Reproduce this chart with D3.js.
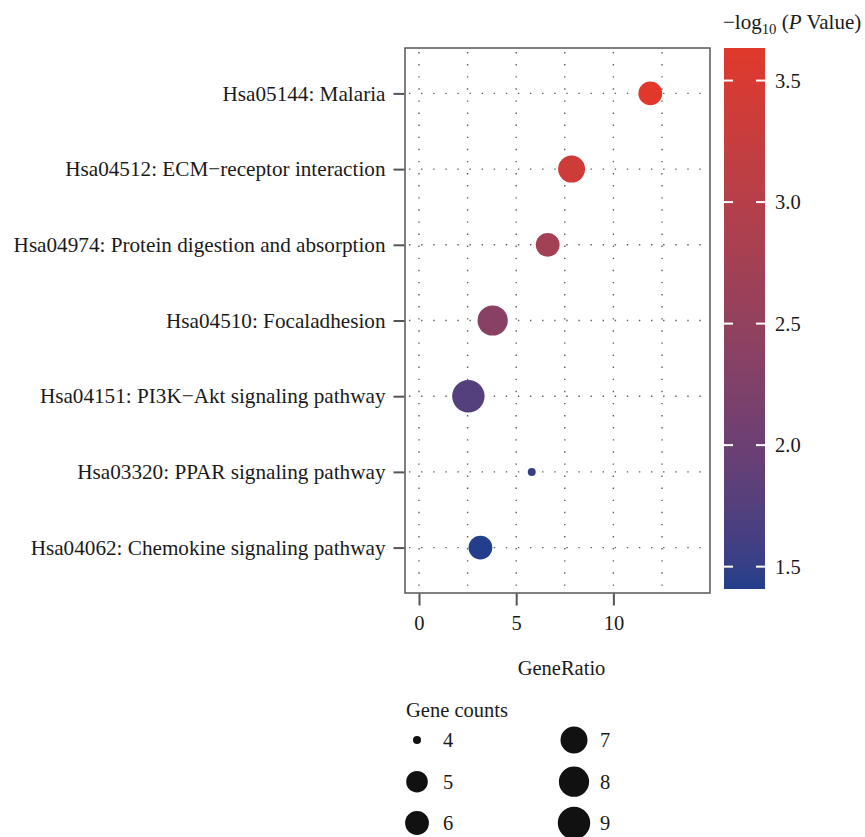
<!DOCTYPE html>
<html>
<head>
<meta charset="utf-8">
<script src="https://cdn.jsdelivr.net/npm/d3@7"></script>
<style>
  html, body { margin: 0; padding: 0; background: #fff; }
  svg { display: block; }
  text { font-family: "Liberation Serif", "Times New Roman", serif; fill: #1a1a1a; }
</style>
</head>
<body>
<svg id="chart" width="865" height="837"></svg>
<script>
// ---- data ----
const pathways = [
  "Hsa05144: Malaria",
  "Hsa04512: ECM\u2212receptor interaction",
  "Hsa04974: Protein digestion and absorption",
  "Hsa04510: Focaladhesion",
  "Hsa04151: PI3K\u2212Akt signaling pathway",
  "Hsa03320: PPAR signaling pathway",
  "Hsa04062: Chemokine signaling pathway"
];
const geneRatio = [11.9, 7.85, 6.62, 3.79, 2.54, 5.8, 3.16];
const geneCounts = [6, 7, 6, 8, 9, 4, 6];
const negLog10P = [3.634, 3.36, 2.74, 2.36, 1.74, 1.5, 1.408];
const xTicks = [0, 5, 10];
const xMinorGrid = [2.5, 7.5, 12.5];
const colorTicks = [1.5, 2.0, 2.5, 3.0, 3.5];
const sizeLegendCounts = [4, 5, 6, 7, 8, 9];

const data = pathways.map((p, i) => ({
  pathway: p, ratio: geneRatio[i], count: geneCounts[i], logp: negLog10P[i]
}));

// ---- layout ----
const svg = d3.select("#chart");
const panel = { left: 405, right: 710, top: 48, bottom: 593 };
const FONT = 20.5;
const YFONT = 21.2;

const x = d3.scaleLinear().domain([-0.72, 14.97]).range([panel.left, panel.right]);
const y = d3.scalePoint().domain(pathways).range([panel.top, panel.bottom]).padding(0.6);
const pMin = d3.min(negLog10P), pMax = d3.max(negLog10P);
const lowCol = "#233E8B", highCol = "#E0392B";
const color = d3.scaleLinear().domain([pMin, pMax]).range([lowCol, highCol]).interpolate(d3.interpolateLab);
const size = d3.scaleLinear().domain([4, 5, 6, 7, 8, 9]).range([4, 10.8, 11.9, 13.5, 15.1, 16.2]);

// panel background
svg.append("rect")
  .attr("x", panel.left).attr("y", panel.top)
  .attr("width", panel.right - panel.left).attr("height", panel.bottom - panel.top)
  .attr("fill", "#fff");

// grid
const grid = svg.append("g").attr("stroke", "#5e5e5e").attr("stroke-width", 1.4)
  .attr("stroke-dasharray", "1.4,10.7").attr("fill", "none");
[...xTicks, ...xMinorGrid].forEach(v => {
  grid.append("line").attr("x1", x(v)).attr("x2", x(v))
    .attr("y1", panel.top + 4).attr("y2", panel.bottom);
});
pathways.forEach(p => {
  grid.append("line").attr("x1", panel.left + 4).attr("x2", panel.right)
    .attr("y1", y(p)).attr("y2", y(p));
});

// points
svg.append("g").selectAll("circle").data(data).join("circle")
  .attr("cx", d => x(d.ratio))
  .attr("cy", d => y(d.pathway))
  .attr("r", d => size(d.count))
  .attr("fill", d => color(d.logp));

// panel border
svg.append("rect")
  .attr("x", panel.left).attr("y", panel.top)
  .attr("width", panel.right - panel.left).attr("height", panel.bottom - panel.top)
  .attr("fill", "none").attr("stroke", "#555").attr("stroke-width", 1.5);

// y axis
const yAxis = d3.axisLeft(y).tickSize(11).tickPadding(8);
const gy = svg.append("g").attr("transform", `translate(${panel.left - 0.5},0)`).call(yAxis);
gy.select(".domain").remove();
gy.selectAll(".tick line").attr("stroke", "#555").attr("stroke-width", 2);
gy.selectAll(".tick text").attr("font-size", YFONT).attr("fill", "#1a1a1a")
  .attr("font-family", "Liberation Serif, serif").attr("dy", "0.32em");

// x axis
const xAxis = d3.axisBottom(x).tickValues(xTicks).tickSize(12).tickPadding(10).tickFormat(d3.format("d"));
const gx = svg.append("g").attr("transform", `translate(0,${panel.bottom + 0.5})`).call(xAxis);
gx.select(".domain").remove();
gx.selectAll(".tick line").attr("stroke", "#555").attr("stroke-width", 2);
gx.selectAll(".tick text").attr("font-size", FONT).attr("fill", "#1a1a1a")
  .attr("font-family", "Liberation Serif, serif");

svg.append("text").attr("x", (panel.left + panel.right) / 2 + 4).attr("y", 675)
  .attr("text-anchor", "middle").attr("font-size", FONT).text("GeneRatio");

// color bar
const cb = { x: 724, w: 41, top: 48, bottom: 589 };
const cy = d3.scaleLinear().domain([pMin, pMax]).range([cb.bottom, cb.top]);
const defs = svg.append("defs");
const grad = defs.append("linearGradient").attr("id", "cbgrad")
  .attr("x1", 0).attr("y1", 1).attr("x2", 0).attr("y2", 0);
d3.range(0, 1.0001, 0.05).forEach(t => {
  grad.append("stop").attr("offset", t).attr("stop-color", color(pMin + t * (pMax - pMin)));
});
svg.append("rect").attr("x", cb.x).attr("y", cb.top).attr("width", cb.w)
  .attr("height", cb.bottom - cb.top).attr("fill", "url(#cbgrad)");
const cbTicks = svg.append("g");
colorTicks.forEach(v => {
  cbTicks.append("line").attr("x1", cb.x).attr("x2", cb.x + 9)
    .attr("y1", cy(v)).attr("y2", cy(v)).attr("stroke", "#fff").attr("stroke-width", 2);
  cbTicks.append("line").attr("x1", cb.x + cb.w - 9).attr("x2", cb.x + cb.w)
    .attr("y1", cy(v)).attr("y2", cy(v)).attr("stroke", "#fff").attr("stroke-width", 2);
  cbTicks.append("text").attr("x", cb.x + cb.w + 10).attr("y", cy(v)).attr("dy", "0.35em")
    .attr("font-size", FONT).text(d3.format(".1f")(v));
});
const cbt = svg.append("text").attr("x", 723).attr("y", 29).attr("font-size", FONT + 0.5);
cbt.append("tspan").text("\u2212log");
cbt.append("tspan").attr("font-size", FONT * 0.72).attr("dy", 5).text("10");
cbt.append("tspan").attr("dy", -5).text(" (");
cbt.append("tspan").attr("font-style", "italic").text("P");
cbt.append("tspan").text(" Value)");

// size legend
svg.append("text").attr("x", 406).attr("y", 717).attr("font-size", FONT).text("Gene counts");
const legCols = [417, 574];
const legRows = [740, 781.7, 823];
const leg = svg.append("g");
sizeLegendCounts.forEach((c, i) => {
  const col = Math.floor(i / 3), row = i % 3;
  leg.append("circle").attr("cx", legCols[col]).attr("cy", legRows[row])
    .attr("r", size(c)).attr("fill", "#111");
  leg.append("text").attr("x", legCols[col] + 26).attr("y", legRows[row]).attr("dy", "0.35em")
    .attr("font-size", FONT).text(c);
});
</script>
</body>
</html>
